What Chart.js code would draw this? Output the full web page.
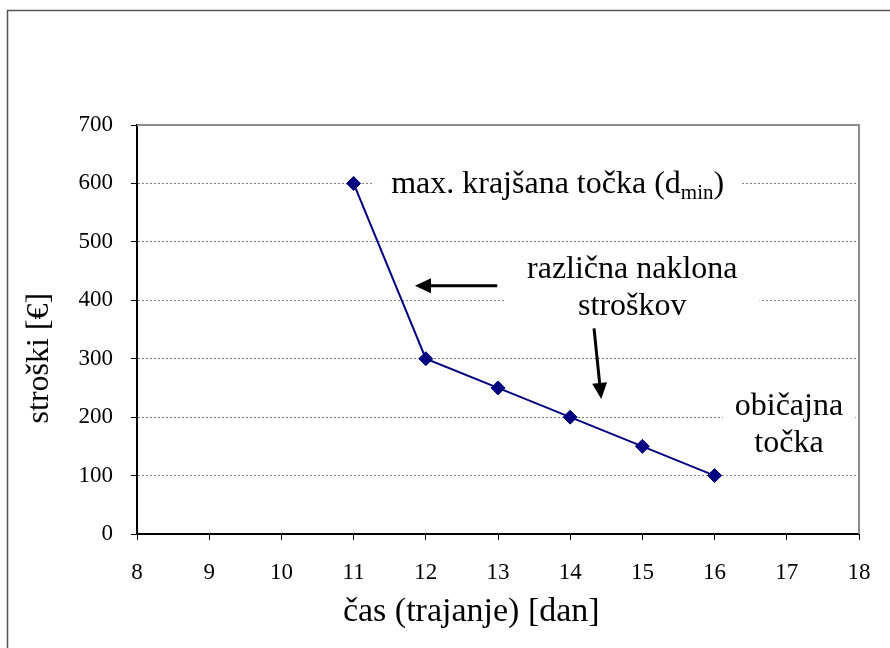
<!DOCTYPE html>
<html lang="sl">
<head>
<meta charset="UTF-8">
<title>Stroški glede na trajanje</title>
<script src="https://cdn.jsdelivr.net/npm/chart.js"></script>
<style>
    body { margin: 0; background: #fff; }
    canvas { display: block; }
</style>
</head>
<body>
<canvas id="costChart" width="890" height="648"></canvas>
<script>
    // Data
    const durations = [11, 12, 13, 14, 15, 16];
    const costs = [600, 300, 250, 200, 150, 100];
    const xTickValues = [8, 9, 10, 11, 12, 13, 14, 15, 16, 17, 18];
    const yTickValues = [0, 100, 200, 300, 400, 500, 600, 700];

    const xTitle = 'čas (trajanje) [dan]';
    const yTitle = 'stroški [€]';

    // Notes placed in data units (x = days, y = cost); y is the first line's centre
    const notes = [
        { lines: ['max. krajšana točka (d'], sub: 'min', tail: ')', x: 11.52, y: 601, align: 'left', pad: 18 },
        { lines: ['različna naklona', 'stroškov'], x: 14.86, y: 456, align: 'center', pad: 22 },
        { lines: ['običajna', 'točka'], x: 17.03, y: 221, align: 'center', pad: 12 }
    ];
    const arrows = [
        { from: [12.99, 425], to: [11.85, 425] },
        { from: [14.33, 352], to: [14.43, 231] }
    ];

    const serif = "'Liberation Serif', 'Times New Roman', serif";

    function drawArrow(ctx, x1, y1, x2, y2) {
        const ang = Math.atan2(y2 - y1, x2 - x1);
        const len = 16, half = 7.5;
        const bx = x2 - len * Math.cos(ang), by = y2 - len * Math.sin(ang);
        ctx.strokeStyle = '#000';
        ctx.lineWidth = 3;
        ctx.beginPath();
        ctx.moveTo(x1, y1);
        ctx.lineTo(bx, by);
        ctx.stroke();
        ctx.fillStyle = '#000';
        ctx.beginPath();
        ctx.moveTo(x2, y2);
        ctx.lineTo(bx - half * Math.sin(ang), by + half * Math.cos(ang));
        ctx.lineTo(bx + half * Math.sin(ang), by - half * Math.cos(ang));
        ctx.closePath();
        ctx.fill();
    }

    const decorations = {
        id: 'decorations',
        afterDraw(chart) {
            const ctx = chart.ctx;
            const area = chart.chartArea;
            const xs = chart.scales.x, ys = chart.scales.y;
            ctx.save();

            // notes with white backing
            const fontSize = 32, lineH = 37;
            notes.forEach(n => {
                ctx.font = fontSize + 'px ' + serif;
                const px = xs.getPixelForValue(n.x);
                const py = ys.getPixelForValue(n.y);
                let widths = n.lines.map(l => ctx.measureText(l).width);
                if (n.sub) {
                    ctx.font = '21px ' + serif;
                    let extra = ctx.measureText(n.sub).width;
                    ctx.font = fontSize + 'px ' + serif;
                    extra += ctx.measureText(n.tail).width;
                    widths[0] += extra;
                }
                const w = Math.max(...widths);
                const left = n.align === 'left' ? px : px - w / 2;
                const top = py - lineH / 2 - 3;
                const bottom = py + (n.lines.length - 1) * lineH + 14;
                ctx.fillStyle = '#fff';
                ctx.fillRect(left - n.pad, top, w + 2 * n.pad, bottom - top);

                ctx.fillStyle = '#000';
                ctx.textBaseline = 'alphabetic';
                n.lines.forEach((line, i) => {
                    const base = py + 10 + i * lineH;
                    ctx.font = fontSize + 'px ' + serif;
                    if (n.align === 'left') {
                        ctx.textAlign = 'left';
                        ctx.fillText(line, left, base);
                        if (n.sub && i === 0) {
                            let cx = left + ctx.measureText(line).width;
                            ctx.font = '21px ' + serif;
                            ctx.fillText(n.sub, cx, base + 6);
                            cx += ctx.measureText(n.sub).width;
                            ctx.font = fontSize + 'px ' + serif;
                            ctx.fillText(n.tail, cx, base);
                        }
                    } else {
                        ctx.textAlign = 'center';
                        ctx.fillText(line, px, base);
                    }
                });
            });

            arrows.forEach(a => {
                drawArrow(ctx,
                    xs.getPixelForValue(a.from[0]), ys.getPixelForValue(a.from[1]),
                    xs.getPixelForValue(a.to[0]), ys.getPixelForValue(a.to[1]));
            });

            // plot frame: grey top and right edges
            ctx.strokeStyle = '#8c8c8c';
            ctx.lineWidth = 2;
            ctx.beginPath();
            ctx.moveTo(area.left, area.top);
            ctx.lineTo(area.right, area.top);
            ctx.lineTo(area.right, area.bottom);
            ctx.stroke();

            // outer chart border (top and left)
            ctx.strokeStyle = '#555';
            ctx.lineWidth = 1.5;
            ctx.beginPath();
            ctx.moveTo(7.5, chart.height);
            ctx.lineTo(7.5, 10.5);
            ctx.lineTo(chart.width, 10.5);
            ctx.stroke();

            // axis titles
            ctx.fillStyle = '#000';
            ctx.textAlign = 'center';
            ctx.textBaseline = 'middle';
            ctx.font = '34px ' + serif;
            ctx.fillText(xTitle, area.left + (area.right - area.left) * 0.463, 612);
            ctx.font = '32px ' + serif;
            ctx.translate(40, area.top + (area.bottom - area.top) * 0.57);
            ctx.rotate(-Math.PI / 2);
            ctx.fillText(yTitle, 0, 0);
            ctx.restore();
        }
    };

    new Chart(document.getElementById('costChart'), {
        type: 'line',
        data: {
            datasets: [{
                data: durations.map((d, i) => ({ x: d, y: costs[i] })),
                borderColor: '#000080',
                backgroundColor: '#000080',
                borderWidth: 2,
                pointStyle: 'rectRot',
                pointRadius: 7,
                pointBorderWidth: 1,
                tension: 0
            }]
        },
        options: {
            responsive: false,
            animation: false,
            layout: { padding: { left: 0, top: 125, right: 31, bottom: 54 } },
            plugins: { legend: { display: false }, tooltip: { enabled: false } },
            scales: {
                x: {
                    type: 'linear',
                    min: xTickValues[0],
                    max: xTickValues[xTickValues.length - 1],
                    afterBuildTicks: s => { s.ticks = xTickValues.map(v => ({ value: v })); },
                    afterFit: s => { s.height = 60; },
                    grid: {
                        drawOnChartArea: false,
                        tickLength: 6,
                        tickColor: '#000',
                        tickWidth: 1
                    },
                    border: { display: true, color: '#000', width: 2 },
                    ticks: {
                        color: '#000',
                        padding: 19,
                        maxRotation: 0,
                        font: { family: serif, size: 23 }
                    }
                },
                y: {
                    min: yTickValues[0],
                    max: yTickValues[yTickValues.length - 1],
                    afterBuildTicks: s => { s.ticks = yTickValues.map(v => ({ value: v })); },
                    afterFit: s => { s.width = 137; },
                    grid: {
                        color: '#808080',
                        lineWidth: 1,
                        tickLength: 6,
                        tickColor: '#000',
                        tickWidth: 1,
                        tickBorderDash: []
                    },
                    border: { display: true, color: '#000', width: 2, dash: [2, 2] },
                    ticks: {
                        color: '#000',
                        padding: 18,
                        font: { family: serif, size: 23 }
                    }
                }
            }
        },
        plugins: [decorations]
    });
</script>
</body>
</html>
